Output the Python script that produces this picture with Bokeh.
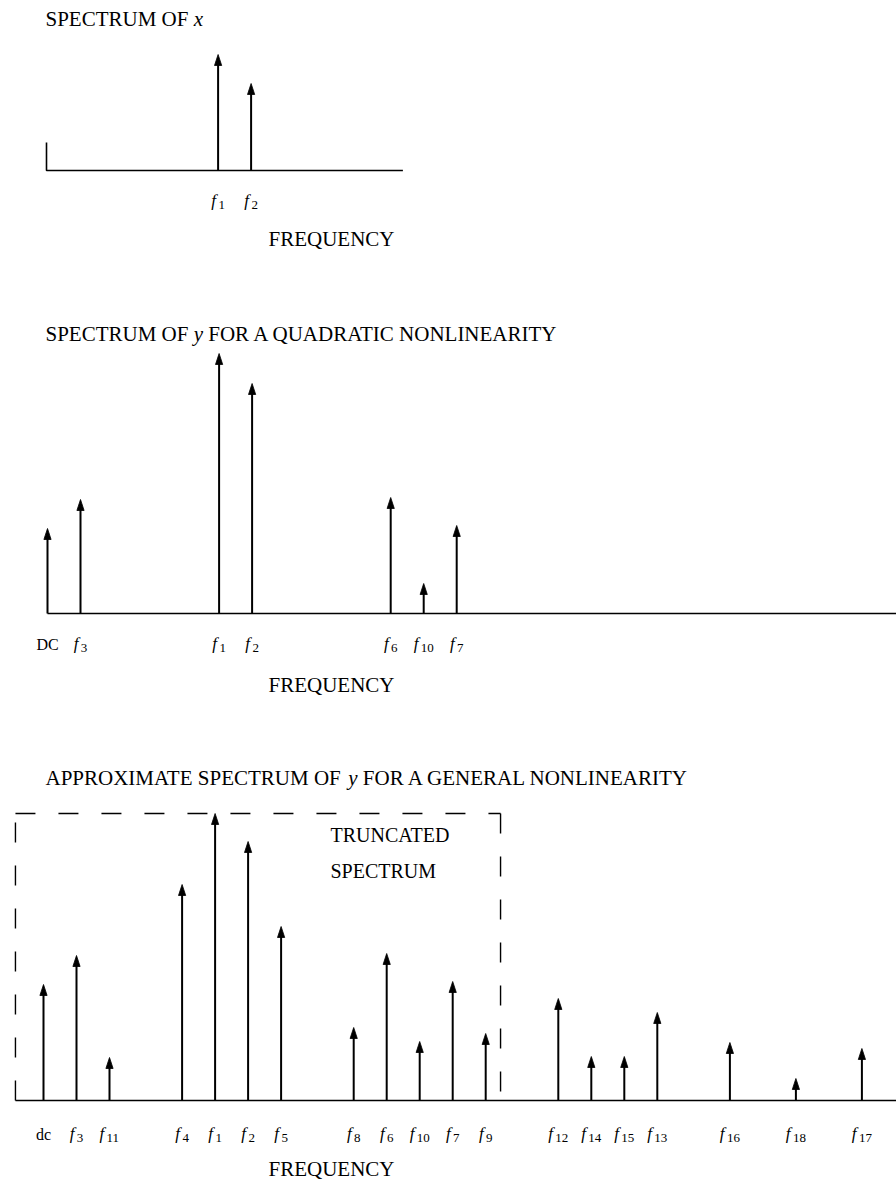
from bokeh.plotting import figure
from bokeh.models import Range1d
from bokeh.core.properties import value
from bokeh.embed import file_html
from bokeh.resources import INLINE

# ---------------- data (frequency positions in line-spacing units, amplitudes arbitrary) -------------
x_labels = ["f1", "f2"]
x_freqs = [5.2, 6.2]
x_amps = [116, 87]
x_axis_end = 10.8
x_axis_stub = 28

quad_labels = ["DC", "f3", "f1", "f2", "f6", "f10", "f7"]
quad_freqs = [0.0, 1.0, 5.2, 6.2, 10.4, 11.4, 12.4]
quad_amps = [85, 114, 260, 230, 116, 30, 88]

gen_labels = ["dc", "f3", "f11", "f4", "f1", "f2", "f5", "f8", "f6", "f10", "f7", "f9",
              "f12", "f14", "f15", "f13", "f16", "f18", "f17"]
gen_freqs = [0.0, 1.0, 2.0, 4.2, 5.2, 6.2, 7.2, 9.4, 10.4, 11.4, 12.4, 13.4,
             15.6, 16.6, 17.6, 18.6, 20.8, 22.8, 24.8]
gen_amps = [116, 145, 43, 216, 287, 259, 174, 73, 147, 59, 119, 67,
            102, 44, 44, 88, 58, 22, 52]
truncated_left = -0.85
truncated_right = 13.85

# ---------------- layout ----------------
W, H = 896, 1184
UNIT = 33.0           # px per frequency unit
SERIF = "Liberation Serif"

p = figure(width=W, height=H, output_backend="svg", toolbar_location=None,
           x_axis_type=None, y_axis_type=None, min_border=0,
           x_range=Range1d(0, W), y_range=Range1d(0, H))
p.grid.visible = False
p.outline_line_color = None
p.background_fill_color = "white"
p.border_fill_color = "white"

# panel: (origin px of frequency 0, baseline px from top)
panels = {"1": (46, 170), "2": (47, 613), "3": (43, 1100)}
p.extra_x_ranges = {}
p.extra_y_ranges = {}
for k, (ox, by) in panels.items():
    p.extra_x_ranges["x" + k] = Range1d(-ox / UNIT, (W - ox) / UNIT)
    p.extra_y_ranges["y" + k] = Range1d(-(H - by), by)


def fx(k, px):
    return (px - panels[k][0]) / UNIT


def fy(k, py):
    return panels[k][1] - py


# Times metrics (per 1000 em)
ROMAN = {" ": 250, "A": 722, "C": 667, "D": 722, "E": 611, "F": 556, "G": 722, "I": 333,
         "L": 611, "M": 889, "N": 722, "O": 722, "P": 556, "Q": 722, "R": 667, "S": 556,
         "T": 611, "U": 722, "X": 722, "Y": 722}


def width(s, size):
    return sum(ROMAN.get(c, 600) for c in s) * size / 1000.0


TITLE_SIZE = 21


def title(k, parts, px, py):
    """parts: list of (text, italic)"""
    off = 0.0
    for txt, ital in parts:
        lead = len(txt) - len(txt.lstrip(" "))
        off += width(" " * lead, TITLE_SIZE)
        core = txt.strip(" ")
        p.text(x=[fx(k, px)], y=[fy(k, py)], text=[core], x_offset=off,
               text_font=value(SERIF), text_font_size=f"{TITLE_SIZE}px",
               text_font_style="italic" if ital else "normal",
               text_align="left", text_baseline="middle", text_color="black",
               x_range_name="x" + k, y_range_name="y" + k)
        off += (444 * TITLE_SIZE / 1000.0) if ital else width(txt.lstrip(" "), TITLE_SIZE)


def plain(k, txt, px, py, size=21, align="center"):
    p.text(x=[fx(k, px)], y=[fy(k, py)], text=[txt],
           text_font=value(SERIF), text_font_size=f"{size}px",
           text_align=align, text_baseline="middle", text_color="black",
           x_range_name="x" + k, y_range_name="y" + k)


def spikes(k, labels, freqs, amps, label_py):
    xr, yr = "x" + k, "y" + k
    p.segment(x0=freqs, y0=[0] * len(freqs), x1=freqs, y1=[a - 7 for a in amps],
              line_width=2, line_color="black", x_range_name=xr, y_range_name=yr)
    hw = 3.6 / UNIT
    xs = [[f - hw, f, f + hw] for f in freqs]
    ys = [[a - 11, a, a - 11] for a in amps]
    p.patches(xs=xs, ys=ys, fill_color="black", line_color="black", line_width=0.8,
              x_range_name=xr, y_range_name=yr)
    ly = fy(k, label_py)
    FS, SS = 17, 13
    for lab, f in zip(labels, freqs):
        if lab.startswith("f"):
            sub = lab[1:]
            fw = 0.42 * FS
            tot = fw + 0.5 * SS * len(sub)
            left = -tot / 2.0
            p.text(x=[f], y=[ly], text=["f"], x_offset=left, y_offset=-1,
                   text_font=value(SERIF), text_font_size=f"{FS}px", text_font_style="italic",
                   text_align="left", text_baseline="middle", text_color="black",
                   x_range_name=xr, y_range_name=yr)
            p.text(x=[f], y=[ly], text=[sub], x_offset=left + fw, y_offset=3,
                   text_font=value(SERIF), text_font_size=f"{SS}px",
                   text_align="left", text_baseline="middle", text_color="black",
                   x_range_name=xr, y_range_name=yr)
        else:
            p.text(x=[f], y=[ly], text=[lab],
                   text_font=value(SERIF), text_font_size="16px",
                   text_align="center", text_baseline="middle", text_color="black",
                   x_range_name=xr, y_range_name=yr)


# ---- panel 1: spectrum of x
p.line(x=[0, 0, x_axis_end], y=[x_axis_stub, 0, 0], line_width=1.6, line_color="black",
       x_range_name="x1", y_range_name="y1")
spikes("1", x_labels, x_freqs, x_amps, 201)
title("1", [("SPECTRUM OF ", False), ("x", True)], 45, 18)
plain("1", "FREQUENCY", 331, 238)

# ---- panel 2: quadratic nonlinearity
p.line(x=[0, fx("2", W)], y=[0, 0], line_width=1.6, line_color="black",
       x_range_name="x2", y_range_name="y2")
spikes("2", quad_labels, quad_freqs, quad_amps, 644)
title("2", [("SPECTRUM OF ", False), ("y", True), (" FOR A QUADRATIC NONLINEARITY", False)], 45, 333)
plain("2", "FREQUENCY", 331, 684)

# ---- panel 3: general nonlinearity
p.line(x=[truncated_left, fx("3", W)], y=[0, 0], line_width=1.6, line_color="black",
       x_range_name="x3", y_range_name="y3")
box_top = max(gen_amps)
dash = dict(line_width=1.4, line_color="black", line_dash="20 23",
            x_range_name="x3", y_range_name="y3")
p.line(x=[truncated_left, truncated_left], y=[0, box_top], **dash)
p.line(x=[truncated_left, truncated_right], y=[box_top, box_top], **dash)
p.line(x=[truncated_right, truncated_right], y=[box_top, 0], **dash)
spikes("3", gen_labels, gen_freqs, gen_amps, 1134)
title("3", [("APPROXIMATE SPECTRUM OF ", False), ("y", True),
            (" FOR A GENERAL NONLINEARITY", False)], 45, 777)
plain("3", "TRUNCATED", 330, 834, size=20, align="left")
plain("3", "SPECTRUM", 330, 870, size=20, align="left")
plain("3", "FREQUENCY", 331, 1168)

open("out.html", "w").write(file_html(p, INLINE))
